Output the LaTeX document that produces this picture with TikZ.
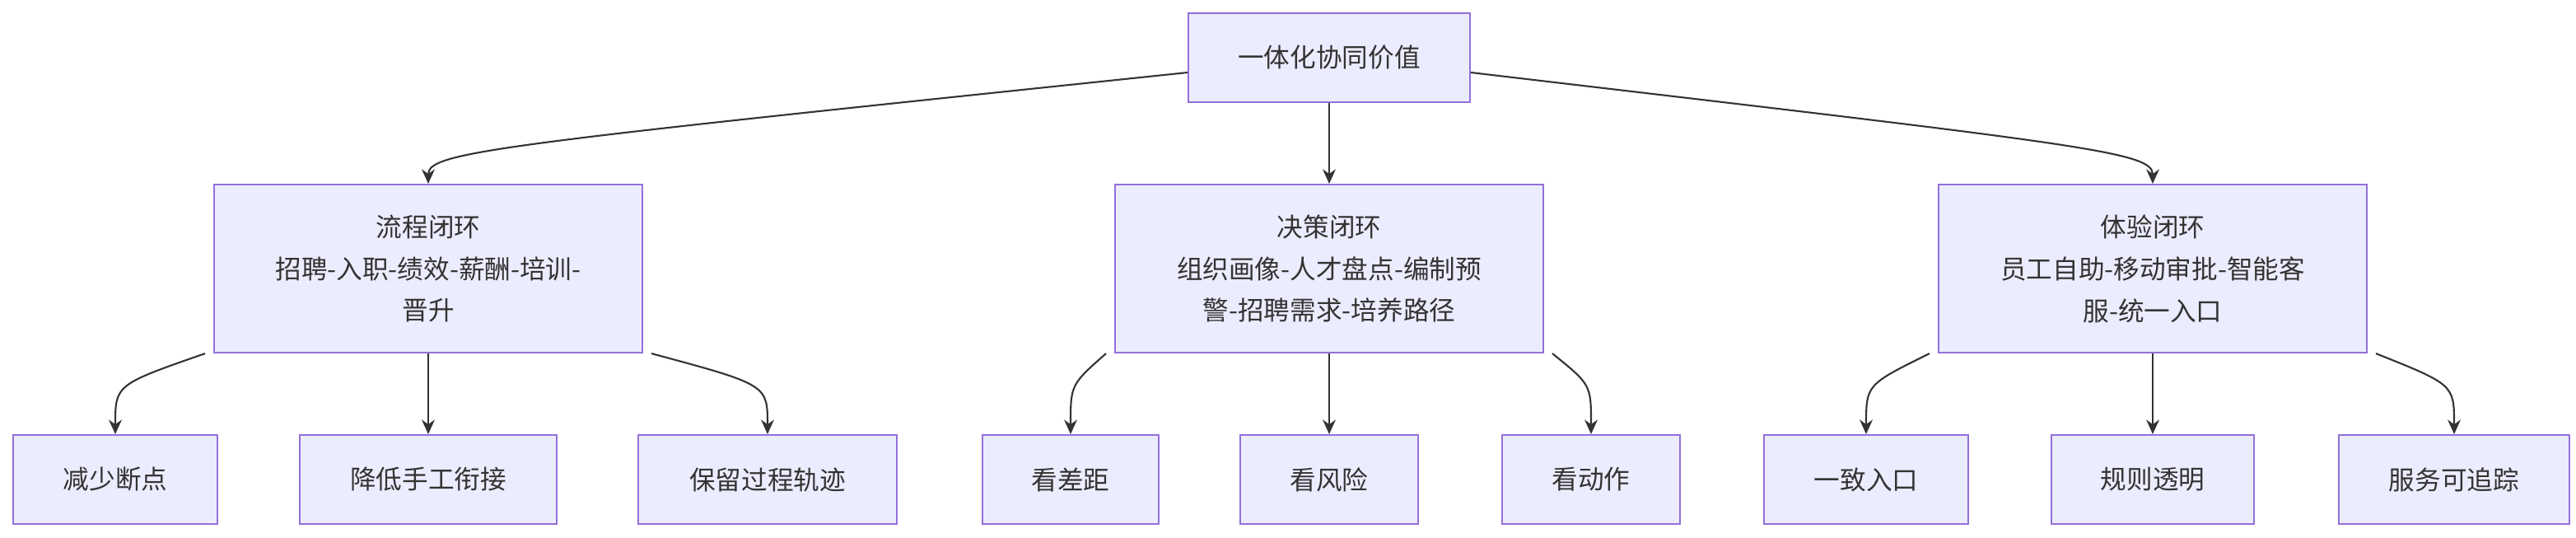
\documentclass[tikz,border=0pt]{standalone}
\usepackage{fontspec}
\setmainfont{Noto Sans CJK SC}
\usetikzlibrary{arrows.meta,calc}
\definecolor{boxfill}{HTML}{ECECFF}
\definecolor{boxline}{HTML}{9370DB}
\definecolor{ink}{HTML}{333333}
\tikzset{
    box/.style = {rectangle, draw=boxline, fill=boxfill, line width=0.6pt, text=ink, align=center, inner sep=0pt, font=\fontsize{9}{14.5}\selectfont},
    leaf/.style = {box, minimum height=1.08cm},
    mid/.style = {box, minimum width=5.2cm, minimum height=2.04cm},
    link/.style = {draw=ink, line width=0.6pt, -{Stealth[length=5pt, width=4.5pt]}}
}
\begin{document}
\begin{tikzpicture}[x=0.02cm, y=-0.02cm]
    \useasboundingbox (0,0) rectangle (1564,326);
    % top
    \node [box, minimum width=3.42cm, minimum height=1.08cm] (value) at (807,35) {一体化协同价值};
    % second level
    \node [mid] (flow) at (260,163) {流程闭环\\招聘-入职-绩效-薪酬-培训-\\晋升};
    \node [mid] (decide) at (807,163) {决策闭环\\组织画像-人才盘点-编制预\\警-招聘需求-培养路径};
    \node [mid] (exper) at (1307,163) {体验闭环\\员工自助-移动审批-智能客\\服-统一入口};
    % leaves
    \node [leaf, minimum width=2.48cm] (fewer) at (70,291) {减少断点};
    \node [leaf, minimum width=3.12cm] (manual) at (260,291) {降低手工衔接};
    \node [leaf, minimum width=3.14cm] (trace) at (466,291) {保留过程轨迹};
    \node [leaf, minimum width=2.14cm] (gap) at (650,291) {看差距};
    \node [leaf, minimum width=2.16cm] (risk) at (807,291) {看风险};
    \node [leaf, minimum width=2.16cm] (action) at (966,291) {看动作};
    \node [leaf, minimum width=2.48cm] (entry) at (1133,291) {一致入口};
    \node [leaf, minimum width=2.46cm] (rules) at (1307,291) {规则透明};
    \node [leaf, minimum width=2.8cm] (track) at (1490,291) {服务可追踪};
    % links
    \draw [link] (value.west |- 0,44) .. controls (300,88) and (260,92) .. (flow.north);
    \draw [link] (value) -- (decide);
    \draw [link] (value.east |- 0,44) .. controls (1267,88) and (1307,92) .. (exper.north);
    \foreach \up/\dl/\dm/\dr in {flow/fewer/manual/trace, decide/gap/risk/action, exper/entry/rules/track} {
        \draw [link] ([xshift=-0.1cm]\up.south west) .. controls ($(\dl.north)+(0,-30)$) .. (\dl.north);
        \draw [link] (\up) -- (\dm);
        \draw [link] ([xshift=0.1cm]\up.south east) .. controls ($(\dr.north)+(0,-30)$) .. (\dr.north);
    }
\end{tikzpicture}
\end{document}
